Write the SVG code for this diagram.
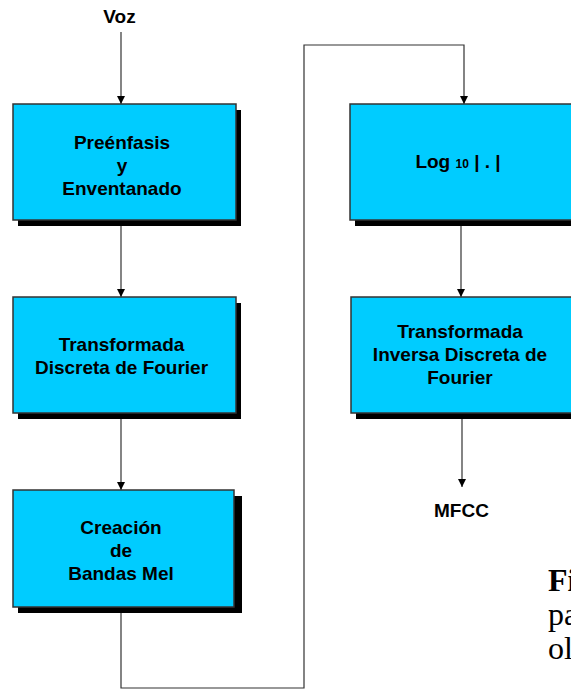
<svg xmlns="http://www.w3.org/2000/svg" width="571" height="690" viewBox="0 0 571 690">
<style>
.box{fill:#00CCFF;stroke:#333;stroke-width:1.5}
.sh{fill:#000}
.t{font-family:"Liberation Sans",Arial,sans-serif;font-weight:bold;font-size:19px;text-anchor:middle;fill:#000}
.c{fill:none;stroke:#333;stroke-width:1.2}
.cap{font-family:"Liberation Serif","Times New Roman",serif;font-size:32px;fill:#000}
</style>
<defs>
<marker id="ah" markerWidth="8" markerHeight="9" refX="8" refY="4" orient="auto" markerUnits="userSpaceOnUse">
<path d="M0,0 L8,4 L0,8 Z" fill="#000"/>
</marker>
</defs>
<rect width="571" height="690" fill="#fff"/>
<g id="connectors">
<line class="c" x1="121" y1="32" x2="121" y2="104" marker-end="url(#ah)"/>
<line class="c" x1="121" y1="226" x2="121" y2="297" marker-end="url(#ah)"/>
<line class="c" x1="121" y1="419" x2="121" y2="490" marker-end="url(#ah)"/>
<polyline class="c" points="121,613 121,688 304,688 304,45 464,45 464,104" marker-end="url(#ah)"/>
<line class="c" x1="461" y1="226" x2="461" y2="297" marker-end="url(#ah)"/>
<line class="c" x1="462" y1="419" x2="462" y2="487" marker-end="url(#ah)"/>
</g>
<g id="voz"><text class="t" x="119.5" y="23" font-size="17.5">Voz</text></g>
<g id="preenfasis">
<rect class="sh" x="18" y="110" width="223" height="116"/>
<rect class="box" x="13" y="104" width="223" height="116"/>
<text class="t" x="122" y="148.5">Preénfasis</text>
<text class="t" x="122" y="171.5">y</text>
<text class="t" x="122" y="195">Enventanado</text>
</g>
<g id="dft">
<rect class="sh" x="18" y="303" width="223" height="116"/>
<rect class="box" x="13" y="297" width="223" height="116"/>
<text class="t" x="121.5" y="351">Transformada</text>
<text class="t" x="121.5" y="373.5">Discreta de Fourier</text>
</g>
<g id="mel">
<rect class="sh" x="18" y="496" width="224" height="117"/>
<rect class="box" x="13" y="490" width="221" height="117"/>
<text class="t" x="121" y="534">Creación</text>
<text class="t" x="121" y="557">de</text>
<text class="t" x="121" y="580">Bandas Mel</text>
</g>
<g id="log">
<rect class="sh" x="355" y="110" width="222" height="116"/>
<rect class="box" x="350" y="104" width="222" height="116"/>
<text class="t" x="458" y="168">Log <tspan font-size="12">10</tspan> | . |</text>
</g>
<g id="idft">
<rect class="sh" x="356" y="303" width="222" height="116"/>
<rect class="box" x="351" y="297" width="222" height="116"/>
<text class="t" x="460" y="338">Transformada</text>
<text class="t" x="460" y="361">Inversa Discreta de</text>
<text class="t" x="460" y="384">Fourier</text>
</g>
<g id="mfcc"><text class="t" x="461.5" y="517" font-size="18">MFCC</text></g>
<g id="caption">
<text class="cap" x="548" y="591" font-weight="bold">Fi</text>
<text class="cap" x="548" y="625">pa</text>
<text class="cap" x="548" y="659">ol</text>
</g>
</svg>
